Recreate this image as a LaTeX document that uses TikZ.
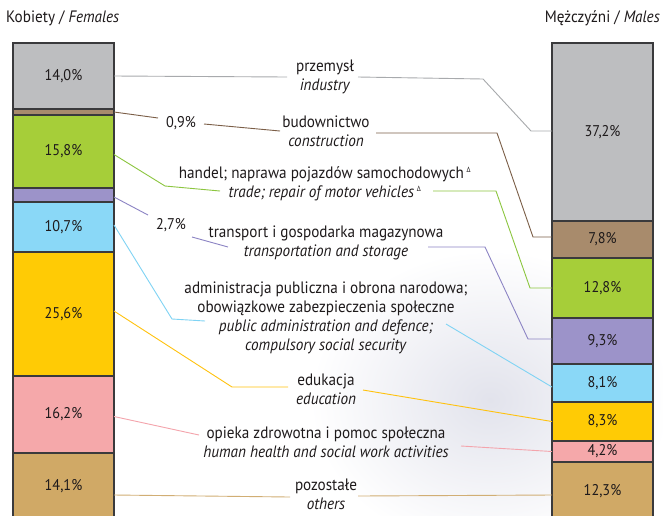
\documentclass[tikz,border=0pt]{standalone}
\usepackage{fontspec}
\setmainfont{PT Sans}[FakeStretch=0.92]
\usepackage{xcolor}
\usepackage{tikz}
\usetikzlibrary{positioning}

\definecolor{barline}{HTML}{3A3A3C}
\definecolor{txt}{HTML}{1E1A1B}
\definecolor{cInd}{HTML}{BDBEC0}
\definecolor{cCon}{HTML}{A88B6C}
\definecolor{cTra}{HTML}{A6CE39}
\definecolor{cTsp}{HTML}{9C93C9}
\definecolor{cAdm}{HTML}{8AD8F7}
\definecolor{cEdu}{HTML}{FFCB05}
\definecolor{cHea}{HTML}{F5A8AA}
\definecolor{cOth}{HTML}{D0A966}
\definecolor{lInd}{HTML}{A8AAAD}
\definecolor{lCon}{HTML}{7B5E47}
\definecolor{lTra}{HTML}{8CC63F}
\definecolor{lTsp}{HTML}{8C84C4}
\definecolor{lAdm}{HTML}{7FD3F4}
\definecolor{lEdu}{HTML}{FFC20E}
\definecolor{lHea}{HTML}{F4A4AC}
\definecolor{lOth}{HTML}{D1AE74}
\definecolor{bgphoto}{HTML}{E2E3EC}

\begin{document}
\begin{tikzpicture}[x=1pt, y=-1pt, text=txt,
  seg/.style={draw=barline, line width=1.3pt, minimum width=101pt, inner sep=0pt, outer sep=0pt,
    font=\fontsize{15.5}{18}\selectfont},
  lab/.style={align=center, inner sep=0pt, font=\fontsize{16.5}{19}\selectfont},
  val/.style={inner sep=0pt, font=\fontsize{15.5}{18}\selectfont},
  con/.style={line width=0.9pt}]
\newcommand{\Fbarx}{13}; % left edge of female bar
\newcommand{\Mbarx}{552}; % left edge of male bar
\newcommand{\Bartop}{43}; % top of both bars

\clip (0,0) rectangle (663,515);
\fill[white] (0,0) rectangle (663,515);
% faint photo behind the chart
\shade[inner color=bgphoto, outer color=white] (490,400) ellipse [x radius=180, y radius=150];

\node[anchor=west, lab] (tFem) at (6,18) {Kobiety / \textit{Females}};
\node[anchor=east, lab] (tMal) at (660,18) {Mężczyźni / \textit{Males}};

% female bar
\node[seg, fill=cInd, minimum height=66, anchor=north west] (fInd) at (\Fbarx, \Bartop) {14,0\%};
\node[seg, fill=cCon, minimum height=6, below=0pt of fInd] (fCon) {};
\node[seg, fill=cTra, minimum height=73, below=0pt of fCon] (fTra) {15,8\%};
\node[seg, fill=cTsp, minimum height=14, below=0pt of fTra] (fTsp) {};
\node[seg, fill=cAdm, minimum height=50, below=0pt of fTsp] (fAdm) {10,7\%};
\node[seg, fill=cEdu, minimum height=124, below=0pt of fAdm] (fEdu) {25,6\%};
\node[seg, fill=cHea, minimum height=77, below=0pt of fEdu] (fHea) {16,2\%};
\node[seg, fill=cOth, minimum height=66, below=0pt of fHea] (fOth) {14,1\%};

% male bar
\node[seg, fill=cInd, minimum height=178, anchor=north west] (mInd) at (\Mbarx, \Bartop) {37,2\%};
\node[seg, fill=cCon, minimum height=37, below=0pt of mInd] (mCon) {7,8\%};
\node[seg, fill=cTra, minimum height=60, below=0pt of mCon] (mTra) {12,8\%};
\node[seg, fill=cTsp, minimum height=46, below=0pt of mTra] (mTsp) {9,3\%};
\node[seg, fill=cAdm, minimum height=38, below=0pt of mTsp] (mAdm) {8,1\%};
\node[seg, fill=cEdu, minimum height=39, below=0pt of mAdm] (mEdu) {8,3\%};
\node[seg, fill=cHea, minimum height=21, below=0pt of mEdu] (mHea) {4,2\%};
\node[seg, fill=cOth, minimum height=58, below=0pt of mHea] (mOth) {12,3\%};

% section labels
\node[lab] (lbInd) at (325,77) {przemysł\\\textit{industry}};
\node[lab] (lbCon) at (326,131) {budownictwo\\\textit{construction}};
\node[lab] (lbTra) at (325,184) {handel; naprawa pojazdów samochodowych\,\textsuperscript{\fontsize{7.5}{7.5}\selectfont Δ}\\
  \textit{trade; repair of motor vehicles}\,\textsuperscript{\fontsize{7.5}{7.5}\selectfont Δ}};
\node[lab] (lbTsp) at (326,243) {transport i gospodarka magazynowa\\\textit{transportation and storage}};
\node[lab] (lbAdm) at (326,318) {administracja publiczna i obrona narodowa;\\obowiązkowe zabezpieczenia społeczne\\
  \textit{public administration and defence;}\\\textit{compulsory social security}};
\node[lab] (lbEdu) at (326,389) {edukacja\\\textit{education}};
\node[lab] (lbHea) at (326,442) {opieka zdrowotna i pomoc społeczna\\\textit{human health and social work activities}};
\node[lab] (lbOth) at (326,494) {pozostałe\\\textit{others}};

\node[val] (vCon) at (181,123) {0,9\%};
\node[val] (vTsp) at (171,225) {2,7\%};

% bend points
\coordinate (indA) at (287,77);
\coordinate (indB) at (358,77);
\coordinate (indC) at (483,79);
\coordinate (indD) at (531,131);
\coordinate (conA) at (158,118);
\coordinate (conB) at (204,124);
\coordinate (conC) at (280,131);
\coordinate (conD) at (376,133);
\coordinate (conE) at (497,133);
\coordinate (conF) at (533,237);
\coordinate (traA) at (165,186);
\coordinate (traB) at (220,191);
\coordinate (traC) at (433,191);
\coordinate (traD) at (496,191);
\coordinate (traE) at (530,288);
\coordinate (tspA) at (148,215);
\coordinate (tspB) at (192,237);
\coordinate (tspC) at (228,247);
\coordinate (tspD) at (428,247);
\coordinate (tspE) at (485,247);
\coordinate (tspF) at (528,339);
\coordinate (admA) at (172,319);
\coordinate (admB) at (205,321);
\coordinate (admC) at (446,324);
\coordinate (eduA) at (232,387);
\coordinate (eduB) at (288,387);
\coordinate (eduC) at (363,390);
\coordinate (heaA) at (199,435);
\coordinate (heaB) at (461,446);
\coordinate (othA) at (290,497);
\coordinate (othB) at (358,496);

% connectors
\draw[con, lInd] (fInd.east) -- (indA);
\draw[con, lInd] (indB) -- (indC) -- (indD) -- (indD -| mInd.west);
\draw[con, lCon] (fCon.east) -- (conA);
\draw[con, lCon] (conB) -- (conC);
\draw[con, lCon] (conD) -- (conE) -- (conF) -- (conF -| mCon.west);
\draw[con, lTra] ([yshift=-3pt]fTra.east) -- (traA) -- (traB);
\draw[con, lTra] (traC) -- (traD) -- (traE) -- (mTra.west);
\draw[con, lTsp] ([yshift=-2pt]fTsp.east) -- (tspA);
\draw[con, lTsp] (tspB) -- (tspC);
\draw[con, lTsp] (tspD) -- (tspE) -- (tspF) -- (tspF -| mTsp.west);
\draw[con, lAdm] ([yshift=2pt]fAdm.east) -- (admA) -- (admB);
\draw[con, lAdm] (admC) -- ([yshift=-4pt]mAdm.west);
\draw[con, lEdu] ([yshift=3pt]fEdu.east) -- (eduA) -- (eduB);
\draw[con, lEdu] (eduC) -- (mEdu.west);
\draw[con, lHea] ([yshift=-2pt]fHea.east) -- (heaA);
\draw[con, lHea] (heaB) -- (mHea.west);
\draw[con, lOth] ([yshift=-9pt]fOth.east) -- (othA);
\draw[con, lOth] (othB) -- ([yshift=-4pt]mOth.west);
\end{tikzpicture}
\end{document}
